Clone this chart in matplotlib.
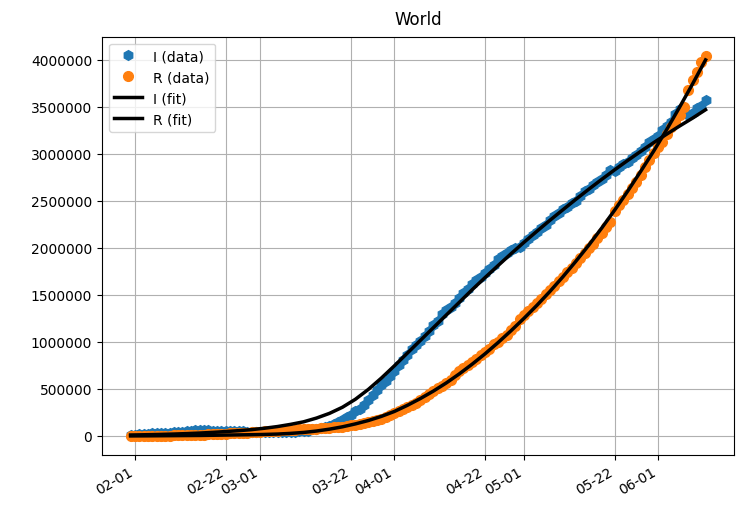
import pandas as pd
import matplotlib.pyplot as plt
import matplotlib.dates as mdates

# daily observations, 2020-01-31 .. 2020-06-12
dates = pd.date_range('2020-01-31', '2020-06-12', freq='D')

I_data = [
    9490, 11500, 15950, 18840, 22550, 25960, 28680, 31670, 33710, 36010,
    37810, 39020, 38960, 52720, 57330, 57990, 58600, 58820, 58790, 57410,
    55790, 55700, 53260, 53120, 51690, 49790, 48220, 46650, 44540, 43290,
    42660, 41620, 41460, 40700, 40740, 42480, 43930, 45330, 47110, 49950,
    54260, 55310, 69550, 77660, 84980, 96360, 108360, 122880, 147850, 173650,
    200040, 224600, 263390, 291440, 332690, 383470, 435180, 490630, 537130, 580240, 637350,
    692620, 750220, 811330, 865300, 920370, 970400, 1014560, 1063200, 1115850, 1178910,
    1225040, 1298910, 1336700, 1375950, 1410860, 1466530, 1518030, 1565930, 1612430, 1656540,
    1692370, 1730550, 1780000, 1814720, 1879280, 1916050, 1946890, 1972870, 2001640, 2012080,
    2055780, 2093570, 2136790, 2172060, 2209500, 2249050, 2294530, 2344240, 2372060, 2412700,
    2437690, 2479120, 2503920, 2554600, 2600400, 2631800, 2667490, 2699640, 2738240, 2774040,
    2823680, 2819270, 2858970, 2896730, 2917920, 2952170, 2985720, 3032290, 3070310, 3124270, 3155340,
    3194550, 3254770, 3297690, 3344460, 3420440, 3475390, 3493430, 3416430, 3432840, 3485670, 3507510, 3575780,
]

R_data = [
    435, 543, 834, 1049, 1344, 1688, 2121, 2730, 3422, 4150,
    4959, 5796, 6268, 7666, 9581, 11061, 12635, 14451, 16359, 18243,
    20424, 21141, 25344, 25863, 27856, 30613, 33154, 36091, 39583, 42723,
    45712, 48687, 51388, 54424, 57144, 59325, 61916, 64496, 66482, 68666,
    71618, 73044, 75655, 78443, 82474, 85214, 88745, 91940, 94721, 98555,
    104472, 112355, 114838, 126599, 134968, 146120, 158113, 170067, 183007, 202148, 220141,
    239986, 263246, 284583, 310758, 329386, 351080, 381919, 416999, 449430, 478621,
    510613, 535812, 568137, 600245, 645196, 685907, 722164, 751828, 788946, 815723,
    856926, 893518, 928887, 981016, 1001865, 1038980, 1076834, 1124361, 1170648, 1244765,
    1287996, 1334013, 1369943, 1410993, 1453189, 1506296, 1551188, 1593827, 1651948, 1688999,
    1739817, 1782625, 1843103, 1887565, 1941944, 2002271, 2046134, 2102300, 2159248, 2222431,
    2278746, 2391549, 2451396, 2510887, 2577139, 2637461, 2706073, 2776654, 2859797, 2934749, 3010671,
    3071305, 3131571, 3210948, 3288527, 3343845, 3415648, 3503871, 3684390, 3788589, 3871965, 3982771, 4044231,
]

# fitted curves, sampled every 3 days
fit_dates = pd.DatetimeIndex(['2020-01-31']).append(
    pd.date_range('2020-02-01', '2020-06-12', freq='3D'))

I_fit = [
    10000, 10700, 13200, 16300, 20100, 24800, 30600, 37800, 46600, 56000,
    67000, 82000, 100000, 123000, 150000, 190000, 240000, 305000, 390000, 495000,
    615000, 745000, 880000, 1015000, 1150000, 1285000, 1420000, 1555000, 1685000, 1812000,
    1938000, 2060000, 2178000, 2294000, 2406000, 2517000, 2625000, 2730000, 2832000, 2931000,
    3027000, 3120000, 3210000, 3297000, 3381000, 3470000,
]

R_fit = [
    0, 300, 1000, 2000, 3000, 4000, 5000, 7000, 9000, 11000,
    13000, 16000, 20000, 27000, 37000, 52000, 72000, 97000, 128000, 164000,
    208000, 260000, 325000, 397000, 476000, 563000, 659000, 763000, 874000, 993000,
    1119000, 1251000, 1390000, 1537000, 1693000, 1858000, 2030000, 2213000, 2404000, 2605000,
    2815000, 3030000, 3258000, 3498000, 3745000, 4000000,
]

fig = plt.figure(figsize=(7.38, 5.1), dpi=100)
ax = fig.add_axes([0.138, 0.106, 0.857, 0.82])

ax.plot(dates, I_data, 'h', color='C0', markersize=7, label='I (data)')
ax.plot(dates, R_data, 'o', color='C1', markersize=7, label='R (data)')
ax.plot(fit_dates, I_fit, '-', color='black', lw=2.5, label='I (fit)')
ax.plot(fit_dates, R_fit, '-', color='black', lw=2.5, label='R (fit)')

ax.set_title('World', pad=9)
ax.xaxis.set_major_locator(mdates.DayLocator(bymonthday=[1, 22]))
ax.xaxis.set_major_formatter(mdates.DateFormatter('%m-%d'))
plt.setp(ax.get_xticklabels(), rotation=30, ha='right')
ax.ticklabel_format(axis='y', style='plain')
ax.grid(True)
ax.legend(loc='upper left')

fig.savefig('out.png', dpi=100)
